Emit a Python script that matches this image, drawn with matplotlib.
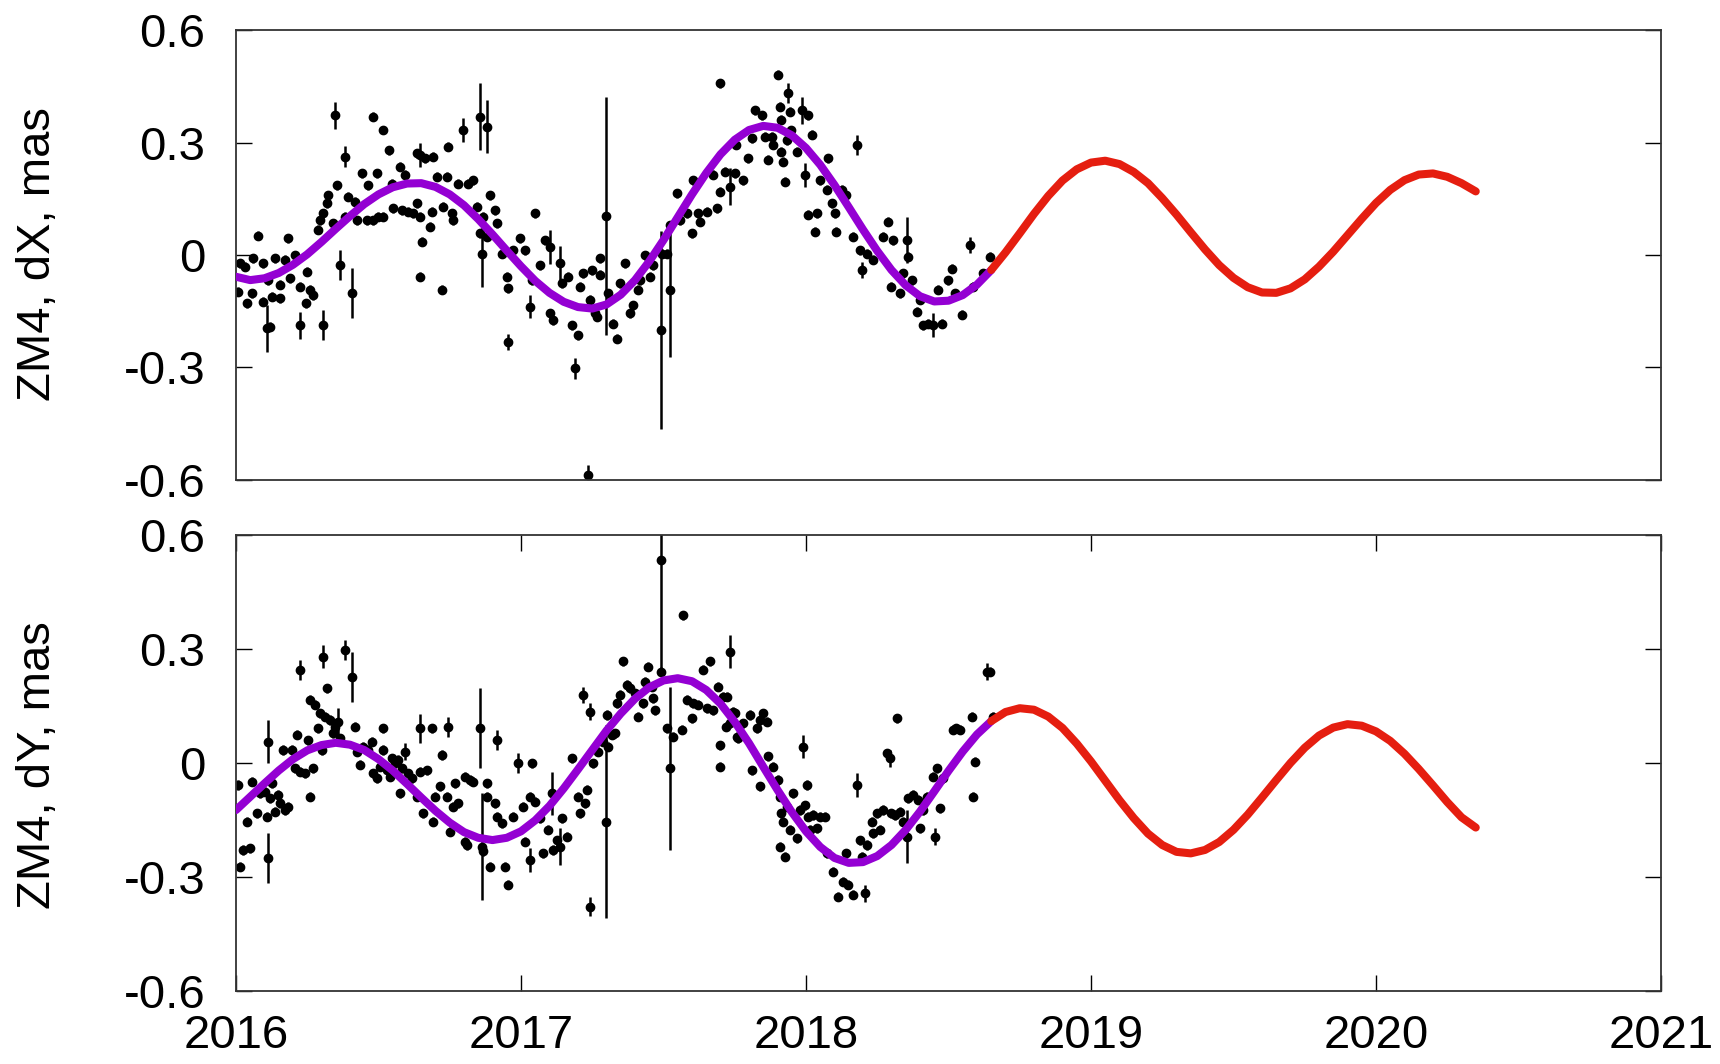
import matplotlib.pyplot as plt

plt.rcParams['font.family'] = ['Liberation Sans', 'DejaVu Sans']

# ---- dX: points with small errors (about +-0.012 mas)
dx_t = [2016.014, 2016.032, 2016.008, 2016.037, 2016.055, 2016.061, 2016.078, 2016.096, 2016.096, 2016.113,
        2016.119, 2016.125, 2016.137, 2016.154, 2016.154, 2016.172, 2016.184, 2016.189, 2016.207, 2016.225,
        2016.246, 2016.250, 2016.260, 2016.271, 2016.289, 2016.295, 2016.306, 2016.318, 2016.324, 2016.342,
        2016.356, 2016.382, 2016.394, 2016.418, 2016.423, 2016.441, 2016.458, 2016.464, 2016.482, 2016.482,
        2016.494, 2016.499, 2016.517, 2016.517, 2016.538, 2016.546, 2016.552, 2016.575, 2016.581, 2016.593,
        2016.605, 2016.622, 2016.634, 2016.634, 2016.646, 2016.651, 2016.646, 2016.663, 2016.681, 2016.687,
        2016.692, 2016.704, 2016.722, 2016.727, 2016.739, 2016.745, 2016.757, 2016.763, 2016.780, 2016.815,
        2016.833, 2016.844, 2016.856, 2016.868, 2016.880, 2016.891, 2016.909, 2016.915, 2016.932, 2016.950,
        2016.956, 2016.973, 2016.996, 2017.014, 2017.037, 2017.049, 2017.067, 2017.084, 2017.102, 2017.113,
        2017.143, 2017.166, 2017.178, 2017.201, 2017.207, 2017.219, 2017.242, 2017.248, 2017.260, 2017.265,
        2017.277, 2017.277, 2017.306, 2017.324, 2017.336, 2017.347, 2017.365, 2017.382, 2017.394, 2017.412,
        2017.418, 2017.435, 2017.453, 2017.464, 2017.494, 2017.511, 2017.523, 2017.546, 2017.558, 2017.581,
        2017.599, 2017.605, 2017.622, 2017.628, 2017.651, 2017.675, 2017.687, 2017.698, 2017.698, 2017.716,
        2017.751, 2017.756, 2017.780, 2017.797, 2017.809, 2017.821, 2017.844, 2017.856, 2017.868, 2017.879,
        2017.885, 2017.903, 2017.909, 2017.914, 2017.914, 2017.920, 2017.926, 2017.932, 2017.944, 2017.949,
        2017.967, 2018.008, 2018.020, 2018.008, 2018.037, 2018.031, 2018.049, 2018.072, 2018.078, 2018.090,
        2018.101, 2018.107, 2018.125, 2018.142, 2018.166, 2018.189, 2018.213, 2018.236, 2018.271, 2018.289,
        2018.300, 2018.306, 2018.330, 2018.341, 2018.359, 2018.371, 2018.388, 2018.400, 2018.411, 2018.429,
        2018.464, 2018.476, 2018.499, 2018.511, 2018.523, 2018.546, 2018.587, 2018.622, 2018.645]
dx_v = [-0.022, -0.031, -0.098, -0.129, -0.102, -0.009, 0.051, -0.022, -0.125, -0.067,
        -0.191, -0.111, -0.009, -0.080, -0.116, -0.013, 0.045, -0.062, 0.000, -0.085,
        -0.129, -0.045, -0.093, -0.107, 0.067, 0.093, 0.111, 0.138, 0.160, 0.085,
        0.187, 0.102, 0.156, 0.142, 0.093, 0.218, 0.093, 0.187, 0.370, 0.093,
        0.218, 0.102, 0.334, 0.102, 0.280, 0.191, 0.125, 0.236, 0.120, 0.214,
        0.116, 0.111, 0.272, 0.138, 0.102, 0.036, -0.058, 0.258, 0.076, 0.116,
        0.263, 0.209, -0.093, 0.129, 0.209, 0.289, 0.111, 0.093, 0.191, 0.191,
        0.200, 0.129, 0.058, 0.102, 0.049, 0.160, 0.120, 0.085, 0.004, -0.058,
        -0.089, 0.013, 0.045, 0.013, -0.067, 0.111, -0.027, 0.040, -0.156, -0.174,
        -0.076, -0.058, -0.187, -0.214, -0.085, -0.049, -0.120, -0.040, -0.156, -0.165,
        -0.009, -0.053, -0.102, -0.183, -0.223, -0.076, -0.022, -0.156, -0.134, -0.093,
        -0.067, 0.000, -0.058, -0.027, 0.004, 0.004, 0.080, 0.165, 0.093, 0.111,
        0.058, 0.200, 0.111, 0.089, 0.116, 0.214, 0.125, 0.459, 0.169, 0.223,
        0.218, 0.294, 0.200, 0.258, 0.312, 0.387, 0.374, 0.316, 0.254, 0.316,
        0.294, 0.481, 0.396, 0.361, 0.276, 0.249, 0.196, 0.307, 0.383, 0.334,
        0.276, 0.374, 0.321, 0.107, 0.111, 0.062, 0.200, 0.174, 0.258, 0.138,
        0.111, 0.062, 0.174, 0.160, 0.049, 0.013, 0.004, -0.013, 0.049, 0.089,
        -0.085, 0.040, -0.102, -0.049, -0.004, -0.067, -0.151, -0.120, -0.187, -0.183,
        -0.093, -0.183, -0.067, -0.036, -0.102, -0.160, -0.085, -0.049, -0.004]
dx_err = 0.012

# ---- dX: points with larger error bars
dx_big_t = [2016.108, 2016.225, 2016.306, 2016.347, 2016.365, 2016.382, 2016.406, 2016.646, 2016.798, 2016.856,
            2016.862, 2016.880, 2016.956, 2017.032, 2017.102, 2017.137, 2017.189, 2017.236, 2017.297, 2017.490,
            2017.522, 2017.733, 2017.938, 2017.985, 2017.996, 2018.178, 2018.195, 2018.353, 2018.447, 2018.575]
dx_big_v = [-0.196, -0.187, -0.187, 0.374, -0.027, 0.263, -0.102, 0.267, 0.334, 0.370,
            0.004, 0.343, -0.232, -0.138, 0.022, -0.022, -0.303, -0.588, 0.105, -0.200,
            -0.093, 0.183, 0.432, 0.387, 0.214, 0.294, -0.040, 0.040, -0.187, 0.027]
dx_big_e = [0.062, 0.036, 0.040, 0.036, 0.040, 0.027, 0.067, 0.031, 0.031, 0.089,
            0.089, 0.071, 0.022, 0.031, 0.045, 0.045, 0.027, 0.027, 0.318, 0.265,
            0.180, 0.049, 0.027, 0.036, 0.031, 0.027, 0.022, 0.062, 0.031, 0.022]

# ---- dY: points with small errors
dy_t = [2016.008, 2016.014, 2016.026, 2016.037, 2016.049, 2016.055, 2016.073, 2016.084, 2016.102, 2016.108,
        2016.119, 2016.125, 2016.137, 2016.149, 2016.154, 2016.166, 2016.172, 2016.184, 2016.195, 2016.207,
        2016.213, 2016.225, 2016.242, 2016.254, 2016.260, 2016.260, 2016.271, 2016.277, 2016.289, 2016.295,
        2016.301, 2016.312, 2016.318, 2016.330, 2016.342, 2016.347, 2016.365, 2016.418, 2016.423, 2016.435,
        2016.447, 2016.464, 2016.476, 2016.482, 2016.494, 2016.505, 2016.515, 2016.517, 2016.529, 2016.540,
        2016.546, 2016.558, 2016.570, 2016.575, 2016.581, 2016.605, 2016.616, 2016.634, 2016.646, 2016.657,
        2016.669, 2016.687, 2016.692, 2016.698, 2016.716, 2016.722, 2016.739, 2016.751, 2016.763, 2016.768,
        2016.780, 2016.804, 2016.804, 2016.809, 2016.821, 2016.833, 2016.868, 2016.880, 2016.880, 2016.891,
        2016.909, 2016.915, 2016.932, 2016.944, 2016.956, 2016.973, 2017.008, 2017.014, 2017.032, 2017.037,
        2017.049, 2017.067, 2017.078, 2017.096, 2017.113, 2017.125, 2017.143, 2017.160, 2017.178, 2017.201,
        2017.207, 2017.225, 2017.230, 2017.254, 2017.271, 2017.289, 2017.301, 2017.306, 2017.318, 2017.330,
        2017.336, 2017.347, 2017.359, 2017.371, 2017.382, 2017.400, 2017.412, 2017.429, 2017.435, 2017.447,
        2017.458, 2017.464, 2017.470, 2017.490, 2017.511, 2017.535, 2017.564, 2017.570, 2017.581, 2017.599,
        2017.605, 2017.622, 2017.640, 2017.651, 2017.663, 2017.675, 2017.692, 2017.698, 2017.698, 2017.722,
        2017.733, 2017.751, 2017.757, 2017.710, 2017.721, 2017.745, 2017.762, 2017.780, 2017.803, 2017.827,
        2017.838, 2017.850, 2017.862, 2017.868, 2017.885, 2017.809, 2017.838, 2017.903, 2017.909, 2017.914,
        2017.920, 2017.909, 2017.926, 2017.932, 2017.944, 2017.955, 2017.967, 2017.979, 2017.996, 2018.002,
        2018.008, 2018.014, 2018.025, 2018.037, 2018.049, 2018.066, 2018.072, 2018.096, 2018.113, 2018.131,
        2018.142, 2018.148, 2018.166, 2018.189, 2018.195, 2018.213, 2018.230, 2018.236, 2018.248, 2018.259,
        2018.271, 2018.283, 2018.300, 2018.312, 2018.318, 2018.330, 2018.341, 2018.359, 2018.376, 2018.394,
        2018.400, 2018.411, 2018.423, 2018.447, 2018.458, 2018.470, 2018.482, 2018.517, 2018.528, 2018.540,
        2018.581, 2018.587, 2018.593, 2018.645, 2018.657]
dy_v = [-0.057, -0.272, -0.228, -0.154, -0.224, -0.048, -0.132, -0.079, -0.075, -0.140,
        -0.092, -0.053, -0.127, -0.083, -0.105, 0.035, -0.123, -0.114, 0.035, -0.013,
        0.075, -0.022, -0.026, 0.061, -0.088, 0.167, -0.013, 0.154, 0.092, 0.132,
        0.035, 0.123, 0.197, 0.114, 0.079, 0.096, 0.066, 0.096, 0.031, -0.004,
        0.044, 0.035, 0.057, -0.026, -0.039, -0.009, 0.092, 0.035, -0.018, -0.035,
        0.013, 0.000, 0.009, -0.079, -0.013, -0.026, -0.039, -0.088, -0.022, -0.132,
        -0.018, 0.092, -0.154, -0.088, -0.061, 0.022, -0.088, -0.180, -0.114, -0.053,
        -0.105, -0.206, -0.035, -0.215, -0.044, -0.048, -0.232, -0.053, -0.088, -0.272,
        -0.105, -0.140, -0.158, -0.272, -0.320, -0.140, -0.114, -0.206, -0.088, 0.000,
        -0.101, -0.145, -0.237, -0.175, -0.228, -0.202, -0.145, -0.193, 0.013, -0.088,
        -0.132, -0.105, -0.070, 0.000, 0.031, 0.057, 0.127, 0.044, 0.075, 0.079,
        0.158, 0.180, 0.268, 0.206, 0.197, 0.184, 0.123, 0.158, 0.215, 0.254,
        0.202, 0.171, 0.140, 0.241, 0.092, 0.070, 0.088, 0.390, 0.167, 0.118,
        0.158, 0.154, 0.246, 0.145, 0.268, 0.140, 0.202, 0.048, -0.009, 0.175,
        0.105, 0.132, 0.070, 0.175, 0.096, 0.136, 0.066, 0.105, 0.127, 0.092,
        0.114, 0.132, 0.110, 0.018, -0.009, -0.018, -0.061, -0.044, -0.088, -0.132,
        -0.154, -0.219, -0.246, -0.114, -0.175, -0.079, -0.197, -0.123, -0.110, -0.057,
        -0.140, -0.175, -0.136, -0.171, -0.140, -0.140, -0.237, -0.285, -0.351, -0.311,
        -0.237, -0.320, -0.346, -0.202, -0.246, -0.215, -0.154, -0.184, -0.132, -0.175,
        -0.123, 0.026, -0.132, -0.136, 0.118, -0.127, -0.154, -0.092, -0.083, -0.096,
        -0.171, -0.123, -0.088, -0.035, -0.013, -0.118, -0.039, 0.088, 0.092, 0.088,
        0.123, -0.088, 0.004, 0.241, 0.123]
dy_err = 0.012

# ---- dY: points with larger error bars
dy_big_t = [2016.113, 2016.113, 2016.225, 2016.306, 2016.359, 2016.382, 2016.406, 2016.593, 2016.646, 2016.745,
            2016.856, 2016.862, 2016.915, 2016.991, 2017.032, 2017.108, 2017.137, 2017.219, 2017.242, 2017.242,
            2017.297, 2017.490, 2017.522, 2017.733, 2017.990, 2018.178, 2018.207, 2018.294, 2018.353, 2018.452,
            2018.634]
dy_big_v = [0.057, -0.250, 0.246, 0.281, 0.110, 0.298, 0.228, 0.031, 0.092, 0.096,
            0.092, -0.219, 0.061, 0.000, -0.254, -0.079, -0.219, 0.180, 0.136, -0.377,
            -0.154, 0.535, -0.013, 0.294, 0.044, -0.057, -0.342, 0.013, -0.193, -0.193,
            0.241]
dy_big_e = [0.057, 0.066, 0.026, 0.031, 0.035, 0.026, 0.066, 0.022, 0.039, 0.026,
            0.105, 0.140, 0.026, 0.026, 0.031, 0.057, 0.048, 0.022, 0.022, 0.026,
            0.254, 0.300, 0.215, 0.044, 0.031, 0.031, 0.022, 0.022, 0.070, 0.022,
            0.022]

# ---- fitted model (purple) and prediction (red), years
fit_years = [2016.00, 2016.05, 2016.10, 2016.15, 2016.20, 2016.25, 2016.30, 2016.35, 2016.40, 2016.45,
             2016.50, 2016.55, 2016.60, 2016.65, 2016.70, 2016.75, 2016.80, 2016.85, 2016.90, 2016.95,
             2017.00, 2017.05, 2017.10, 2017.15, 2017.20, 2017.25, 2017.30, 2017.35, 2017.40, 2017.45,
             2017.50, 2017.55, 2017.60, 2017.65, 2017.70, 2017.75, 2017.80, 2017.85, 2017.90, 2017.95,
             2018.00, 2018.05, 2018.10, 2018.15, 2018.20, 2018.25, 2018.30, 2018.35, 2018.40, 2018.45,
             2018.50, 2018.55, 2018.60, 2018.65]
pred_years = [2018.65, 2018.70, 2018.75, 2018.80, 2018.85, 2018.90, 2018.95, 2019.00, 2019.05, 2019.10,
              2019.15, 2019.20, 2019.25, 2019.30, 2019.35, 2019.40, 2019.45, 2019.50, 2019.55, 2019.60,
              2019.65, 2019.70, 2019.75, 2019.80, 2019.85, 2019.90, 2019.95, 2020.00, 2020.05, 2020.10,
              2020.15, 2020.20, 2020.25, 2020.30, 2020.35]

dx_fit = [-0.058, -0.067, -0.062, -0.048, -0.026, 0.002, 0.035, 0.070, 0.104, 0.136,
          0.162, 0.181, 0.191, 0.192, 0.182, 0.162, 0.133, 0.096, 0.055, 0.012,
          -0.030, -0.069, -0.101, -0.125, -0.139, -0.143, -0.132, -0.106, -0.067, -0.017,
          0.040, 0.101, 0.162, 0.219, 0.269, 0.308, 0.334, 0.345, 0.340, 0.320,
          0.286, 0.241, 0.187, 0.128, 0.068, 0.011, -0.040, -0.081, -0.110, -0.124,
          -0.122, -0.107, -0.079, -0.040]
dx_pred = [-0.040, 0.007, 0.058, 0.110, 0.158, 0.199, 0.229, 0.247, 0.252, 0.243,
           0.222, 0.192, 0.152, 0.108, 0.061, 0.015, -0.027, -0.061, -0.086, -0.100,
           -0.101, -0.089, -0.065, -0.031, 0.009, 0.053, 0.097, 0.139, 0.174, 0.200,
           0.215, 0.218, 0.209, 0.192, 0.170]
dy_fit = [-0.123, -0.088, -0.053, -0.019, 0.011, 0.034, 0.048, 0.054, 0.049, 0.035,
          0.011, -0.019, -0.054, -0.090, -0.125, -0.156, -0.181, -0.196, -0.202, -0.196,
          -0.179, -0.150, -0.112, -0.066, -0.016, 0.035, 0.086, 0.131, 0.170, 0.200,
          0.218, 0.224, 0.216, 0.193, 0.157, 0.109, 0.053, -0.009, -0.070, -0.128,
          -0.179, -0.220, -0.249, -0.262, -0.260, -0.244, -0.215, -0.175, -0.127, -0.074,
          -0.020, 0.031, 0.076, 0.111]
dy_pred = [0.111, 0.135, 0.145, 0.141, 0.123, 0.093, 0.052, 0.005, -0.046, -0.097,
           -0.144, -0.185, -0.215, -0.233, -0.237, -0.228, -0.207, -0.175, -0.135, -0.090,
           -0.044, 0.001, 0.041, 0.073, 0.094, 0.103, 0.099, 0.084, 0.059, 0.025,
           -0.015, -0.058, -0.102, -0.142, -0.169]

year_ticks = [2016, 2017, 2018, 2019, 2020, 2021]
val_ticks = [-0.6, -0.3, 0, 0.3, 0.6]
val_labels = ['-0.6', '-0.3', '0', '0.3', '0.6']

PURPLE = '#9400d3'
RED = '#e51e10'
FS = 34

fig = plt.figure(figsize=(17.2, 10.64), dpi=100)
ax1 = fig.add_axes([0.1372, 0.5492, 0.8285, 0.4222])
ax2 = fig.add_axes([0.1372, 0.0683, 0.8285, 0.4286])

panels = [
    (ax1, dx_t, dx_v, dx_err, dx_big_t, dx_big_v, dx_big_e, dx_fit, dx_pred, 'ZM4, dX, mas', 0.761),
    (ax2, dy_t, dy_v, dy_err, dy_big_t, dy_big_v, dy_big_e, dy_fit, dy_pred, 'ZM4, dY, mas', 0.281),
]

for ax, t, v, e, bt, bv, be, fit, pred, label, ly in panels:
    # measured points with error bars
    ax.errorbar(t, v, yerr=e, fmt='o', color='black', ms=6, elinewidth=1.8, capsize=0, zorder=2)
    ax.errorbar(bt, bv, yerr=be, fmt='o', color='black', ms=6, elinewidth=1.8, capsize=0, zorder=2)
    # model and prediction
    ax.plot(fit_years, fit, color=PURPLE, lw=5.8, solid_capstyle='round', zorder=3)
    ax.plot(pred_years, pred, color=RED, lw=5.8, solid_capstyle='round', zorder=3)

    ax.set_xlim(2016, 2021)
    ax.set_ylim(-0.6, 0.6)
    ax.set_yticks(val_ticks)
    ax.set_yticklabels(val_labels)
    ax.tick_params(axis='y', direction='in', length=11.5, width=1, left=True, right=True,
                   labelsize=FS, pad=22)
    for s in ax.spines.values():
        s.set_linewidth(1.3)
        s.set_color('#333333')
    fig.text(0.022, ly, label, rotation=90, ha='center', va='center', fontsize=FS)

# top panel: no x ticks
ax1.set_xticks(year_ticks)
ax1.tick_params(axis='x', bottom=False, top=False, labelbottom=False)

# bottom panel: year ticks on both edges
ax2.set_xticks(year_ticks)
ax2.set_xticklabels([str(y) for y in year_ticks])
ax2.tick_params(axis='x', direction='in', length=11.5, width=1, top=True, bottom=True,
                labelsize=FS, pad=16)

fig.savefig('out.png', dpi=100)
